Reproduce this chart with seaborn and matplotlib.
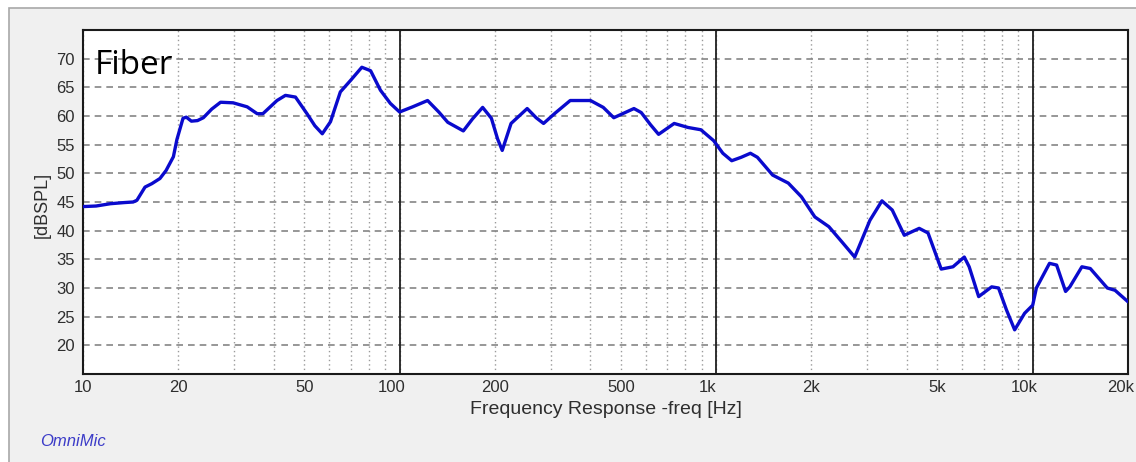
import numpy as np
import pandas as pd
import matplotlib
matplotlib.use("Agg")
import matplotlib.pyplot as plt
import seaborn as sns
from matplotlib.ticker import FixedLocator, NullFormatter, LogLocator
from matplotlib.patches import Rectangle
from matplotlib.transforms import ScaledTranslation

# ---- data ----
freq_hz = [10, 11, 12.2, 13.5, 14.4, 14.8, 15.7, 16.5, 17.5, 18.3, 19.3, 19.8,
           20.7, 21.2, 22.0, 23.0, 24.0, 25.5, 27.2, 29.8, 33.0, 35.5, 37.0,
           41.0, 43.6, 46.9, 51.0, 54.0, 57.0, 60.5, 65.0, 70.0, 76.0, 81.0,
           87.0, 93.5, 100, 110, 122.6, 133, 142, 159, 170, 183, 195, 204,
           211, 225, 253, 270, 285, 310, 346, 401, 440, 475, 550, 580, 620,
           658, 737, 815, 895, 982, 1050, 1120, 1200, 1283, 1350, 1508, 1690,
           1860, 2050, 2270, 2500, 2740, 3060, 3340, 3600, 3930, 4380, 4670,
           5140, 5600, 6080, 6300, 6750, 7420, 7800, 8260, 8770, 9430, 10000,
           10270, 11300, 11900, 12700, 13100, 14300, 15200, 17200, 18200, 20000]
spl_db = [44.2, 44.3, 44.7, 44.9, 45.0, 45.3, 47.6, 48.2, 49.1, 50.5, 52.9, 55.9,
          59.6, 59.8, 59.1, 59.2, 59.7, 61.2, 62.4, 62.3, 61.6, 60.4, 60.4,
          62.7, 63.6, 63.3, 60.4, 58.3, 56.9, 59.0, 64.2, 66.2, 68.5, 67.9,
          64.5, 62.2, 60.7, 61.6, 62.7, 60.7, 58.9, 57.4, 59.5, 61.5, 59.6, 56.0,
          54.0, 58.7, 61.3, 59.7, 58.7, 60.5, 62.7, 62.7, 61.5, 59.7, 61.3, 60.6, 58.5,
          56.8, 58.7, 58.0, 57.6, 55.7, 53.5, 52.2, 52.8, 53.5, 52.8, 49.7, 48.3,
          45.9, 42.4, 40.7, 38.0, 35.4, 41.8, 45.2, 43.6, 39.2, 40.4, 39.6,
          33.3, 33.7, 35.4, 33.7, 28.5, 30.2, 30.0, 26.2, 22.7, 25.6, 27.0,
          30.0, 34.3, 34.0, 29.4, 30.2, 33.7, 33.4, 30.0, 29.6, 27.6]

xtick_vals = [10, 20, 50, 100, 200, 500, 1000, 2000, 5000, 10000, 20000]
xtick_labels = ["10", "20", "50", "100", "200", "500", "1k", "2k", "5k", "10k", "20k"]
ytick_vals = [20, 25, 30, 35, 40, 45, 50, 55, 60, 65, 70]
decade_lines = [100, 1000, 10000]

df = pd.DataFrame({"freq": freq_hz, "spl": spl_db})

sns.set_style("white")
plt.rcParams["font.family"] = ["Liberation Sans", "DejaVu Sans"]

fig = plt.figure(figsize=(11.36, 4.62), dpi=100, facecolor="white")
# outer panel
panel = Rectangle((9 / 1136, -0.05), 1.1, 1 - 8 / 462 + 0.05,
                  transform=fig.transFigure, facecolor="#f0f0f0",
                  edgecolor="#a8a8a8", linewidth=1.2, zorder=-10)
fig.patches.append(panel)

ax = fig.add_axes([83 / 1136, 1 - 374 / 462, (1128 - 83) / 1136, (374 - 30) / 462])
ax.set_zorder(1)
ax.set_facecolor("white")

sns.lineplot(data=df, x="freq", y="spl", ax=ax, color="#0a0acd",
             linewidth=2.4, zorder=5, estimator=None, sort=False)

ax.set_xscale("log")
ax.set_xlim(10, 20000)
ax.set_ylim(15, 75)

ax.xaxis.set_major_locator(FixedLocator(xtick_vals))
ax.set_xticklabels(xtick_labels)
ax.xaxis.set_minor_locator(LogLocator(base=10, subs=np.arange(2, 10), numticks=20))
ax.xaxis.set_minor_formatter(NullFormatter())
ax.set_yticks(ytick_vals)

ax.grid(False)
ax.grid(which="both", axis="x", color="#9a9a9a", linestyle=(0, (1, 2.2)), linewidth=1.0, zorder=1)
ax.grid(which="major", axis="y", color="#858585", linestyle=(0, (4, 3)), linewidth=1.2, zorder=1)
for d in decade_lines:
    ax.axvline(d, color="#202020", linewidth=1.3, zorder=2)

for s in ax.spines.values():
    s.set_color("#1a1a1a")
    s.set_linewidth(1.5)

ax.tick_params(axis="x", which="both", length=0, pad=4, labelsize=12, labelcolor="#2e2e2e")
ax.tick_params(axis="y", which="both", direction="in", length=3, pad=6,
               labelsize=12, labelcolor="#2e2e2e", color="#555555")

shifts = {"100": -8, "1k": -9, "10k": -9, "20k": -7}
for lab in ax.get_xticklabels():
    t = lab.get_text()
    if t in shifts:
        lab.set_transform(lab.get_transform() + ScaledTranslation(shifts[t] / 100, 0, fig.dpi_scale_trans))

ax.set_xlabel("Frequency Response -freq [Hz]", fontsize=14, color="#2e2e2e", va="center")
ax.xaxis.set_label_coords(0.5, -(409 - 374) / 344)
ax.set_ylabel("[dBSPL]", fontsize=13, color="#2e2e2e", va="center")
ax.yaxis.set_label_coords((42 - 83) / 1045, 0.5 - (205 - 202) / 344)

fig.text(95 / 1136, 1 - 74 / 462, "Fiber", fontsize=24, family=["Open Sans", "DejaVu Sans"],
         color="black", va="baseline", ha="left", zorder=10)
fig.text(40 / 1136, 1 - 442 / 462, "OmniMic", fontsize=12, style="italic",
         color="#3c3cc8", va="center", ha="left")

fig.savefig("out.png", dpi=100, facecolor="white")
